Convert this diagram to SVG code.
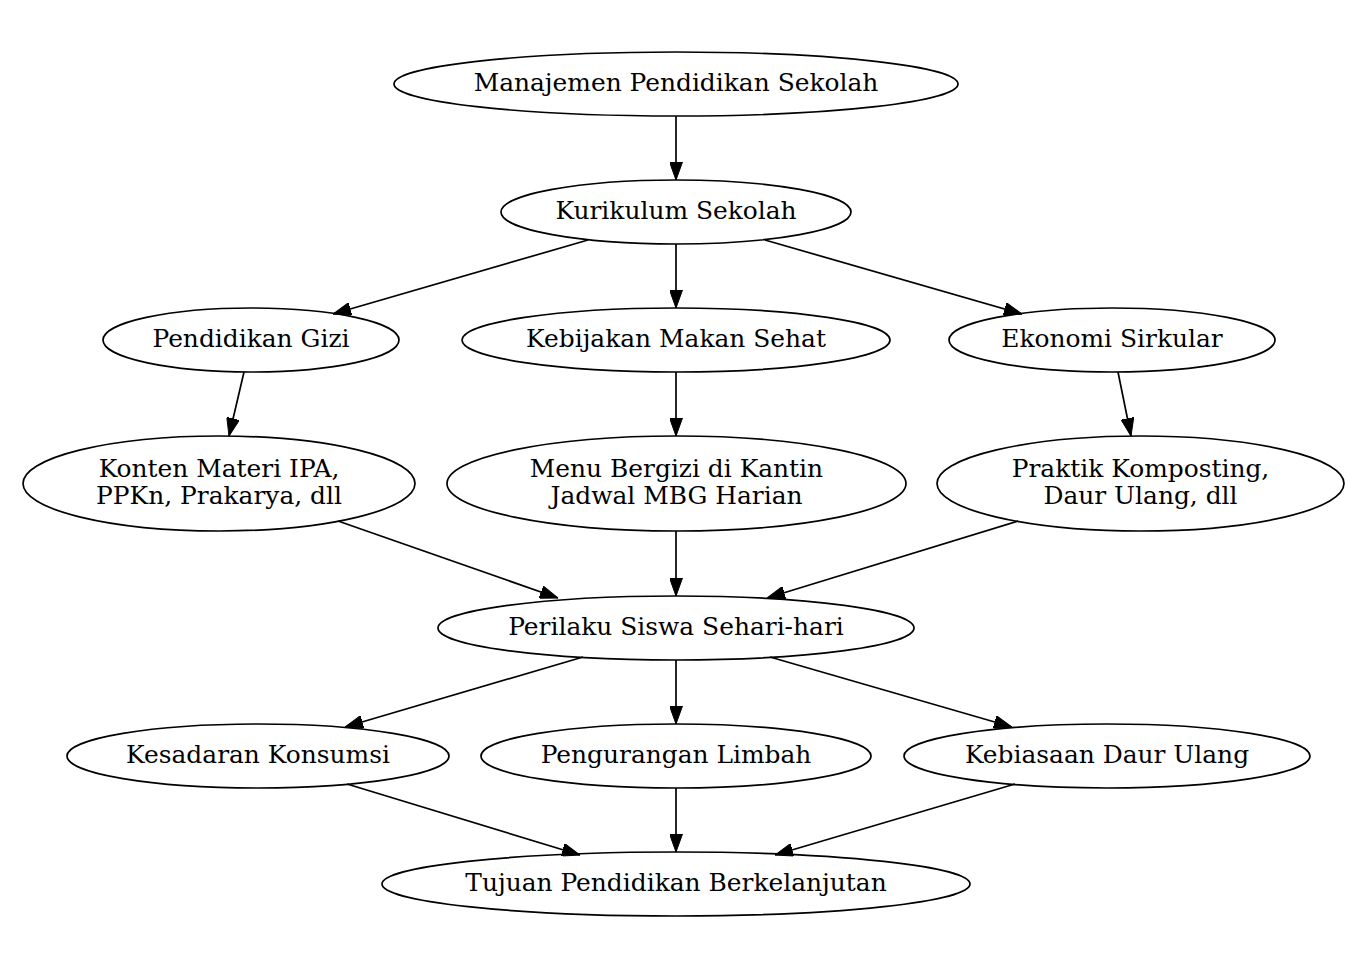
<svg xmlns="http://www.w3.org/2000/svg" width="1361" height="957" viewBox="0 0 1361 957">
<style>
.n ellipse{fill:none;stroke:#000;stroke-width:1.7}
.n text{font-family:"DejaVu Serif",serif;font-size:24.9px;text-anchor:middle;fill:#000}
.e line{stroke:#000;stroke-width:1.7;marker-end:url(#a)}
</style>
<defs>
<marker id="a" viewBox="0 0 18 13" refX="18" refY="6.5" markerWidth="18" markerHeight="13" markerUnits="userSpaceOnUse" orient="auto">
<path d="M0,0 L18,6.5 L0,13 z" fill="#000" stroke="#000" stroke-width="1"/>
</marker>
</defs>
<rect width="1361" height="957" fill="#fff"/>
<g id="edges" class="e">
<line x1="676" y1="116" x2="676" y2="180"/>
<line x1="588" y1="240" x2="333" y2="314"/>
<line x1="676" y1="244" x2="676" y2="308"/>
<line x1="765" y1="240" x2="1022" y2="314"/>
<line x1="244" y1="372" x2="229" y2="436"/>
<line x1="676" y1="372" x2="676" y2="436"/>
<line x1="1118" y1="372" x2="1131" y2="436"/>
<line x1="338" y1="521" x2="558" y2="598"/>
<line x1="676" y1="531" x2="676" y2="596"/>
<line x1="1018" y1="521" x2="767" y2="598"/>
<line x1="583" y1="657" x2="345" y2="727"/>
<line x1="676" y1="660" x2="676" y2="724"/>
<line x1="770" y1="657" x2="1012" y2="727"/>
<line x1="347" y1="784" x2="580" y2="855"/>
<line x1="676" y1="788" x2="676" y2="852"/>
<line x1="1015" y1="784" x2="775" y2="855"/>
</g>
<g id="n1" class="n"><ellipse cx="676" cy="84" rx="282" ry="32"/><text x="676" y="91">Manajemen Pendidikan Sekolah</text></g>
<g id="n2" class="n"><ellipse cx="676" cy="212" rx="175" ry="32"/><text x="676" y="219">Kurikulum Sekolah</text></g>
<g id="n3" class="n"><ellipse cx="251" cy="340" rx="148" ry="32"/><text x="251" y="347">Pendidikan Gizi</text></g>
<g id="n4" class="n"><ellipse cx="676" cy="340" rx="214" ry="32"/><text x="676" y="347">Kebijakan Makan Sehat</text></g>
<g id="n5" class="n"><ellipse cx="1112" cy="340" rx="163" ry="32"/><text x="1112" y="347">Ekonomi Sirkular</text></g>
<g id="n6" class="n"><ellipse cx="219" cy="483.5" rx="196" ry="47.5"/><text x="219" y="477">Konten Materi IPA,</text><text x="219" y="504">PPKn, Prakarya, dll</text></g>
<g id="n7" class="n"><ellipse cx="676.5" cy="483.5" rx="229.5" ry="47.5"/><text x="676.5" y="477">Menu Bergizi di Kantin</text><text x="676.5" y="504">Jadwal MBG Harian</text></g>
<g id="n8" class="n"><ellipse cx="1140.5" cy="483.5" rx="203.5" ry="47.5"/><text x="1140.5" y="477">Praktik Komposting,</text><text x="1140.5" y="504">Daur Ulang, dll</text></g>
<g id="n9" class="n"><ellipse cx="676" cy="628" rx="238" ry="32"/><text x="676" y="635">Perilaku Siswa Sehari-hari</text></g>
<g id="n10" class="n"><ellipse cx="258" cy="756" rx="191" ry="32"/><text x="258" y="763">Kesadaran Konsumsi</text></g>
<g id="n11" class="n"><ellipse cx="676" cy="756" rx="195" ry="32"/><text x="676" y="763">Pengurangan Limbah</text></g>
<g id="n12" class="n"><ellipse cx="1107" cy="756" rx="203" ry="32"/><text x="1107" y="763">Kebiasaan Daur Ulang</text></g>
<g id="n13" class="n"><ellipse cx="676" cy="884" rx="294" ry="32"/><text x="676" y="891">Tujuan Pendidikan Berkelanjutan</text></g>
</svg>
